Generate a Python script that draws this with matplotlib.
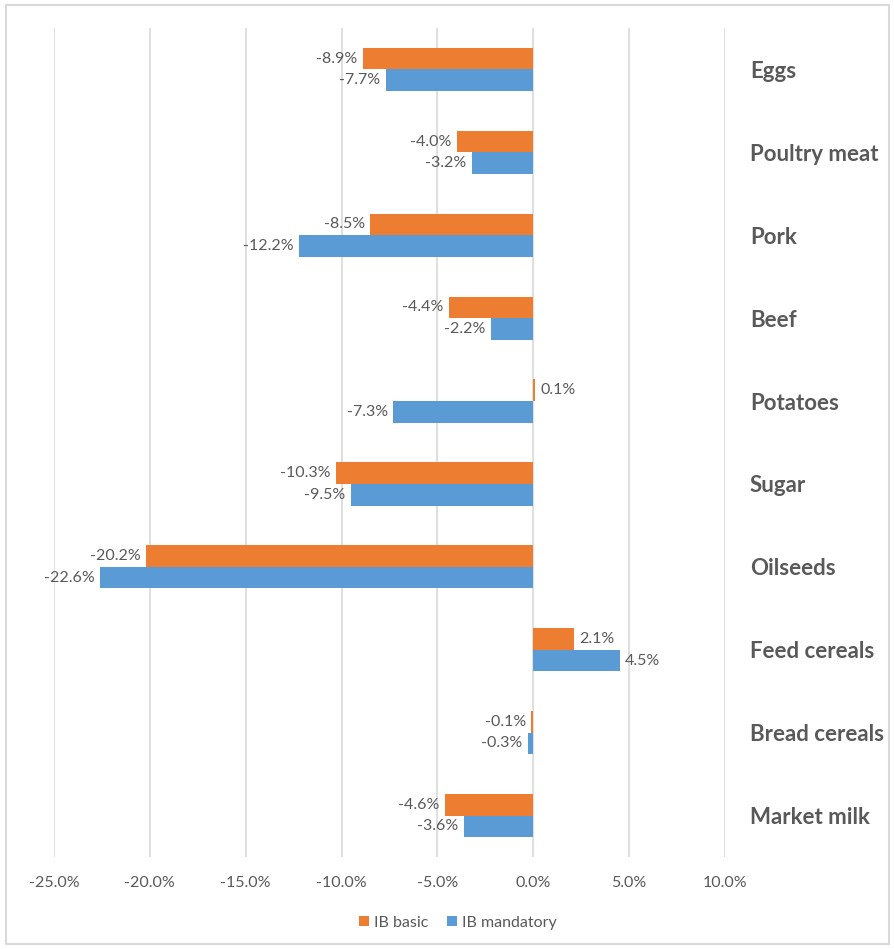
import matplotlib.pyplot as plt
import numpy as np
from matplotlib.patches import Rectangle

plt.rcParams['font.family'] = ['Lato', 'DejaVu Sans']

# data
categories = ["Eggs", "Poultry meat", "Pork", "Beef", "Potatoes", "Sugar",
              "Oilseeds", "Feed cereals", "Bread cereals", "Market milk"]
ib_basic = [-8.9, -4.0, -8.5, -4.4, 0.1, -10.3, -20.2, 2.1, -0.1, -4.6]
ib_mandatory = [-7.7, -3.2, -12.2, -2.2, -7.3, -9.5, -22.6, 4.5, -0.3, -3.6]
x_ticks = [-25, -20, -15, -10, -5, 0, 5, 10]

orange = '#ED7D31'
blue = '#5B9BD5'
text_col = '#595959'
grid_col = '#D9D9D9'

fig = plt.figure(figsize=(8.95, 9.49), dpi=100)
ax = fig.add_axes([54 / 895, 1 - 857 / 949, (725 - 54) / 895, (857 - 28) / 949])

y = np.arange(len(categories))
h = 0.26
b1 = ax.barh(y - h / 2, ib_basic, h, color=orange, label='IB basic')
b2 = ax.barh(y + h / 2, ib_mandatory, h, color=blue, label='IB mandatory')

# data labels
for bars in (b1, b2):
    ax.bar_label(bars, labels=[f"{v:.1f}%" for v in bars.datavalues],
                 padding=4, fontsize=11.5, color=text_col)

ax.set_xlim(-25, 10)
ax.set_ylim(len(categories) - 0.5, -0.5)
ax.set_xticks(x_ticks)
ax.set_xticklabels([f"{t:.1f}%" for t in x_ticks])
ax.grid(axis='x', color=grid_col, linewidth=1.2)
ax.set_axisbelow(True)
for s in ax.spines.values():
    s.set_visible(False)

ax.yaxis.tick_right()
ax.set_yticks(y)
ax.set_yticklabels(categories, fontsize=16, fontweight='bold', color=text_col)
ax.tick_params(axis='y', length=0, pad=18)
ax.tick_params(axis='x', length=0, pad=14, labelsize=11.5, labelcolor=text_col)

fig.legend(handles=[b1, b2], labels=['IB basic', 'IB mandatory'],
           loc='center', bbox_to_anchor=(458 / 895, 1 - 923 / 949), ncol=2,
           frameon=False, fontsize=11.5, labelcolor=text_col,
           handlelength=0.6, handleheight=0.6, handletextpad=0.3, columnspacing=1.2)

# chart border
fig.patches.append(Rectangle((6 / 895, 5 / 949), 883 / 895, 939 / 949,
                             transform=fig.transFigure, fill=False,
                             edgecolor=grid_col, linewidth=1.5))

fig.savefig('out.png', dpi=100)
